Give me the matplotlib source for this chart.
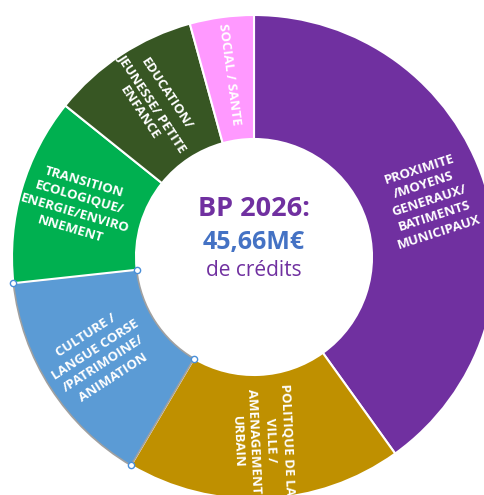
import numpy as np
import matplotlib.pyplot as plt

# Budget split (M EUR), read from the donut
categories = [
    "PROXIMITE\n/MOYENS\nGENERAUX/\nBATIMENTS\nMUNICIPAUX",
    "POLITIQUE DE LA\nVILLE /\nAMENAGEMENT\nURBAIN",
    "CULTURE /\nLANGUE CORSE\n/PATRIMOINE/\nANIMATION",
    "TRANSITION\nECOLOGIQUE/\nENERGIE/ENVIRO\nNNEMENT",
    "EDUCATION/\nJEUNESSE/ PETITE\nENFANCE",
    "SOCIAL / SANTE",
]
values = [18.30, 8.40, 6.75, 5.70, 4.55, 1.95]
colors = ["#7030A0", "#BF9000", "#5B9BD5", "#00B050", "#375623", "#FF99FF"]

title_txt = "BP 2026:"
total_txt = "45,66M€"
sub_txt = "de crédits"

plt.rcParams['font.family'] = ['Open Sans', 'DejaVu Sans']

R = 242.0  # outer radius in pixels
cx, cy = 254.0, 257.0  # centre in image pixels
W, H = 485, 495

fig = plt.figure(figsize=(W / 100, H / 100), dpi=100)
ax = fig.add_axes([0, 0, 1, 1])

wedges, _ = ax.pie(values, colors=colors, startangle=90, counterclock=False,
                   radius=1.0,
                   wedgeprops=dict(width=124 / R, edgecolor='white', linewidth=1.5))

# label each slice, rotated along its radius
for w, lab in zip(wedges, categories):
    mid = (w.theta1 + w.theta2) / 2
    mid = (mid + 180) % 360 - 180
    rot = mid if -90 <= mid <= 90 else mid - 180
    r = 0.76
    x, y = r * np.cos(np.radians(mid)), r * np.sin(np.radians(mid))
    ax.text(x, y, lab, rotation=rot, rotation_mode='anchor', ha='center', va='center',
            multialignment='center', color='white', fontsize=9.5, fontweight='bold',
            linespacing=1.35)

# selection outline + handles on the culture slice (as in the screenshot)
sel = wedges[2]
sel.set_edgecolor('#A0A0A0')
sel.set_linewidth(1.2)
rin = 1 - 124 / R
for th in (sel.theta1, sel.theta2):
    for rr in (1.0, rin):
        ax.plot(rr * np.cos(np.radians(th)), rr * np.sin(np.radians(th)), 'o',
                ms=4.5, mfc='white', mec='#4A8FD8', mew=1.0, zorder=5)

# centre text
ax.text(0, (cy - 209) / R, title_txt, ha='center', va='center', color='#7030A0',
        fontsize=19.5, fontweight='bold')
ax.text(0, (cy - 243) / R, total_txt, ha='center', va='center', color='#4472C4',
        fontsize=18, fontweight='bold')
ax.text(0, (cy - 271) / R, sub_txt, ha='center', va='center', color='#7030A0',
        fontsize=15)

ax.set_xlim(-cx / R, (W - cx) / R)
ax.set_ylim((cy - H) / R, cy / R)
ax.set_aspect('equal')
ax.axis('off')

fig.savefig('out.png', dpi=100)
